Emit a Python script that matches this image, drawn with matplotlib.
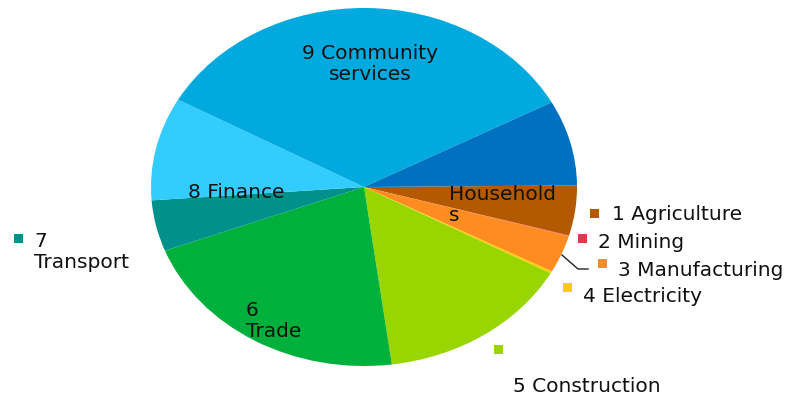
import matplotlib.pyplot as plt
import matplotlib.patches as mpatches

plt.rcParams['font.family'] = ['DejaVu Sans']

# share of each sector (%), clockwise from 3 o'clock
sectors = ['1 Agriculture', '2 Mining', '3 Manufacturing', '4 Electricity',
           '5 Construction', '6 Trade', '7 Transport', '8 Finance',
           '9 Community services', 'Households']
shares = [4.5, 0.05, 3.4, 0.2, 14.9, 21.3, 4.6, 9.3, 34.05, 7.7]
colors = ['#B35A00', '#E8364F', '#FF8C21', '#FFCC00', '#99D600',
          '#00B03C', '#00928A', '#33CCFF', '#00AADE', '#0070C0']

fig = plt.figure(figsize=(7.9, 4.0), dpi=100)

# pie stretched into an ellipse: axes box in pixels (left, top, w, h)
W, H = 790.0, 400.0
px, py, pw, ph = 151, 8, 426, 358
ax = fig.add_axes([px / W, 1 - (py + ph) / H, pw / W, ph / H])
ax.pie(shares, colors=colors, startangle=0.5, counterclock=False,
       radius=1, wedgeprops=dict(linewidth=0))
ax.set_aspect('auto')
ax.set_xlim(-1, 1)
ax.set_ylim(-1, 1)
ax.axis('off')

# overlay in pixel coordinates for labels
ov = fig.add_axes([0, 0, 1, 1])
ov.set_xlim(0, W)
ov.set_ylim(H, 0)
ov.axis('off')
ov.patch.set_alpha(0)

fs = 14.5
tc = '#111111'
ls = 1.07

# labels inside the pie
ov.text(370, 64, '9 Community\nservices', ha='center', va='center',
        fontsize=fs, color=tc, linespacing=ls)
ov.text(188, 192, '8 Finance', ha='left', va='center', fontsize=fs, color=tc)
ov.text(449, 205, 'Household\ns', ha='left', va='center', fontsize=fs,
        color=tc, linespacing=ls)
ov.text(246, 321, '6\nTrade', ha='left', va='center', fontsize=fs,
        color=tc, linespacing=ls)

# labels outside with a colour key
keys = [
    (594, 213, 612, 214, 0, '1 Agriculture'),
    (582, 238, 598, 242, 1, '2 Mining'),
    (602, 263, 618, 270, 2, '3 Manufacturing'),
    (567, 287, 583, 297, 3, '4 Electricity'),
    (498, 349, 513, 386, 4, '5 Construction'),
]
for mx, my, tx, ty, i, txt in keys:
    ov.add_patch(mpatches.Rectangle((mx - 4.5, my - 4.5), 9, 9,
                                    color=colors[i], lw=0))
    ov.text(tx, ty, txt, ha='left', va='center', fontsize=fs, color=tc)

ov.add_patch(mpatches.Rectangle((18 - 4.5, 238 - 4.5), 9, 9,
                                color=colors[6], lw=0))
ov.text(34, 252, '7\nTransport', ha='left', va='center', fontsize=fs,
        color=tc, linespacing=ls)

# leader line for manufacturing
ov.plot([562, 578, 588], [255, 269, 269], color='#222222', lw=1)

fig.savefig('out.png', dpi=100, facecolor='white')
